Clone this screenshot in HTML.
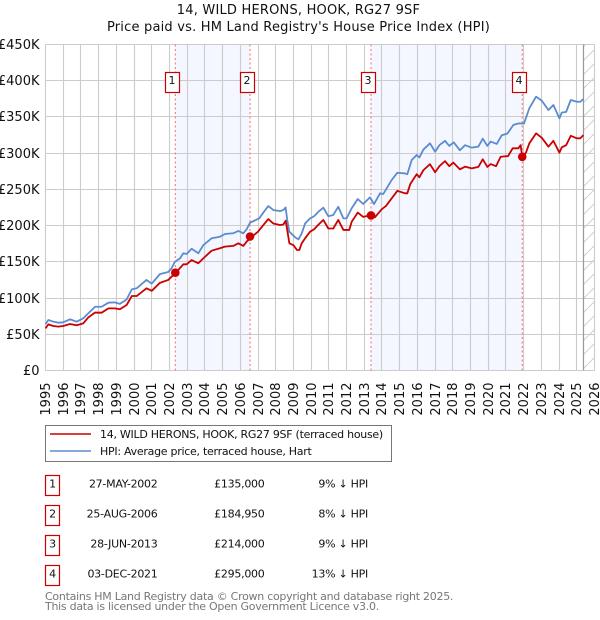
<!DOCTYPE html>
<html>
<head>
<meta charset="utf-8">
<title>14, WILD HERONS, HOOK, RG27 9SF</title>
<style>
html,body{margin:0;padding:0;background:#fff;}
svg{display:block;font-family:"DejaVu Sans",sans-serif;}
text{fill:#111;}
.small{font-size:11px;letter-spacing:-0.27px;}
.head{font-size:13px;letter-spacing:0.2px;}
</style>
</head>
<body>
<svg id="chart" xmlns="http://www.w3.org/2000/svg" width="600" height="620" viewBox="0 0 600 620">
  <defs>
    <pattern id="hatch" patternUnits="userSpaceOnUse" width="14" height="14">
      <path d="M-2 16 L16 -2" stroke="#cfcfcf" stroke-width="1" fill="none"/>
    </pattern>
  </defs>
  <text class="head" x="298.5" y="14" text-anchor="middle">14, WILD HERONS, HOOK, RG27 9SF</text>
  <text class="head" x="298.5" y="31" text-anchor="middle">Price paid vs. HM Land Registry's House Price Index (HPI)</text>
  <g id="plot"></g>

  <g>
    <rect x="45.5" y="425.5" width="346" height="36" fill="#fff" stroke="#777" stroke-width="1"/>
    <line x1="50" x2="91" y1="434" y2="434" stroke="#cc0000" stroke-width="1.6"/>
    <text class="small" x="100" y="438">14, WILD HERONS, HOOK, RG27 9SF (terraced house)</text>
    <line x1="50" x2="91" y1="451" y2="451" stroke="#5b8bd0" stroke-width="1.6"/>
    <text class="small" x="100" y="455">HPI: Average price, terraced house, Hart</text>
  </g>

  <g>
    <g>
      <rect x="45.5" y="475.5" width="14" height="20" fill="#fff" stroke="#cc0000" stroke-width="1.2"/>
      <text class="small" x="52.5" y="487.5" text-anchor="middle">1</text>
      <text class="small" x="157.5" y="487.5" text-anchor="end">27-MAY-2002</text>
      <text class="small" x="264.5" y="487.5" text-anchor="end">£135,000</text>
      <text class="small" x="368" y="487.5" text-anchor="end">9% ↓ HPI</text>
    </g>
    <g>
      <rect x="45.5" y="505.5" width="14" height="20" fill="#fff" stroke="#cc0000" stroke-width="1.2"/>
      <text class="small" x="52.5" y="517.5" text-anchor="middle">2</text>
      <text class="small" x="157.5" y="517.5" text-anchor="end">25-AUG-2006</text>
      <text class="small" x="264.5" y="517.5" text-anchor="end">£184,950</text>
      <text class="small" x="368" y="517.5" text-anchor="end">8% ↓ HPI</text>
    </g>
    <g>
      <rect x="45.5" y="535.5" width="14" height="20" fill="#fff" stroke="#cc0000" stroke-width="1.2"/>
      <text class="small" x="52.5" y="547.5" text-anchor="middle">3</text>
      <text class="small" x="157.5" y="547.5" text-anchor="end">28-JUN-2013</text>
      <text class="small" x="264.5" y="547.5" text-anchor="end">£214,000</text>
      <text class="small" x="368" y="547.5" text-anchor="end">9% ↓ HPI</text>
    </g>
    <g>
      <rect x="45.5" y="565.5" width="14" height="20" fill="#fff" stroke="#cc0000" stroke-width="1.2"/>
      <text class="small" x="52.5" y="577.5" text-anchor="middle">4</text>
      <text class="small" x="157.5" y="577.5" text-anchor="end">03-DEC-2021</text>
      <text class="small" x="264.5" y="577.5" text-anchor="end">£295,000</text>
      <text class="small" x="368" y="577.5" text-anchor="end">13% ↓ HPI</text>
    </g>
  </g>

  <text class="small" x="45" y="600" style="fill:#777">Contains HM Land Registry data © Crown copyright and database right 2025.</text>
  <text class="small" x="45" y="610" style="fill:#777">This data is licensed under the Open Government Licence v3.0.</text>
</svg>

<script>
const yearTicks = [1995,1996,1997,1998,1999,2000,2001,2002,2003,2004,2005,2006,2007,2008,2009,2010,2011,2012,2013,2014,2015,2016,2017,2018,2019,2020,2021,2022,2023,2024,2025,2026];
const valueTicks = [0,50,100,150,200,250,300,350,400,450];
const valueTickLabels = ['£0','£50K','£100K','£150K','£200K','£250K','£300K','£350K','£400K','£450K'];

const hpiDates = [1995,1995.16,1995.44,1995.72,1996,1996.38,1996.76,1997.13,1997.42,1997.8,1998.17,1998.55,1998.92,1999.2,1999.58,1999.87,2000.15,2000.7,2001,2001.46,2001.93,2002.12,2002.3,2002.6,2002.78,2002.97,2003.25,2003.63,2003.91,2004.38,2004.85,2005.13,2005.6,2005.89,2006.17,2006.36,2006.55,2007.07,2007.3,2007.58,2007.86,2008.24,2008.43,2008.56,2008.65,2008.77,2009.09,2009.28,2009.47,2009.66,2009.94,2010.17,2010.4,2010.69,2010.97,2011.25,2011.53,2011.82,2012,2012.29,2012.63,2012.94,2013.32,2013.55,2013.89,2014.07,2014.55,2014.87,2015.3,2015.43,2015.68,2015.96,2016.11,2016.34,2016.71,2017,2017.24,2017.56,2017.8,2018.05,2018.4,2018.69,2019.07,2019.44,2019.69,2019.95,2020.14,2020.48,2020.76,2021.08,2021.42,2021.7,2022.02,2022.32,2022.7,2023.02,2023.4,2023.68,2024.02,2024.15,2024.4,2024.66,2025,2025.2,2025.37];
const hpiValues = [64.2,69.7,67.4,66,66.5,70.7,67.4,72,79,88,88,93.6,94,92,98,112,113.5,125,120,133,136,141,150,155,161.8,160.8,168,161.8,173,182.5,184.7,188.4,189.4,192.6,189.4,195,204,210,218,227,221.6,220,221.6,225,207.7,191.6,183.9,181,189.4,203,210,213,219,224.8,213,214.7,226,210,210,224,236.7,229.8,239,229.8,244.6,243.6,263,273,272,271,290.6,297.5,294,305,313.6,302,311,317,310,315,304,311,307.6,309,320,310,316,312.7,324.7,327,339,341,341,362,378,372.5,359.6,366.5,348,356,357,373.4,371,371,374.8];

const priceDates = [1995,1995.16,1995.44,1995.72,1996,1996.38,1996.76,1997.13,1997.42,1997.8,1998.17,1998.55,1998.92,1999.2,1999.58,1999.87,2000.15,2000.7,2001,2001.46,2001.93,2002.12,2002.38,2002.78,2002.97,2003.25,2003.63,2003.91,2004.38,2004.85,2005.13,2005.6,2005.89,2006.17,2006.36,2006.65,2007,2007.3,2007.58,2007.86,2008.24,2008.43,2008.56,2008.65,2008.77,2009,2009.2,2009.33,2009.47,2009.66,2009.94,2010.17,2010.4,2010.69,2010.97,2011.25,2011.53,2011.82,2012.15,2012.29,2012.63,2012.94,2013.23,2013.42,2013.6,2013.98,2014.22,2014.55,2014.87,2015.3,2015.43,2015.6,2015.96,2016.11,2016.34,2016.71,2017,2017.24,2017.56,2017.8,2018.03,2018.4,2018.69,2019.07,2019.44,2019.69,2019.95,2020.14,2020.44,2020.7,2021.12,2021.38,2021.7,2021.83,2021.92,2022.13,2022.32,2022.7,2023.02,2023.4,2023.68,2024.02,2024.15,2024.4,2024.66,2025,2025.2,2025.37];
const priceValues = [58.2,63.7,61.4,60.5,61.4,64.2,62.4,65,73.4,80,79.8,85.8,85.8,84.5,90.4,102.8,102.8,113.5,110,121,125,129.5,135.5,146.6,146.6,152.5,148,154.8,165.4,168.7,171,172,175.6,172,178,184.7,191.6,200.8,209,203,200.8,201.5,206.8,194,175.6,173,166.3,166.3,175.6,182.5,191.6,195,201,207.8,196,196,207.8,194,194,205.4,218,212,213.7,214.7,211.5,222.5,227,237.7,248,244.6,244.6,257.5,271,266.7,276.6,284.8,273.6,282,289,282,287,277.7,281.4,279,281,291.5,281,285,282,295,296,306.7,306.7,311,295,300.7,313.6,327.4,321.4,309,317,300.7,308,311,324,320.5,320.5,325];

const saleNumbers = ['1','2','3','4'];
const saleDates = [2002.33,2006.55,2013.38,2021.92];
const saleValues = [135,184.95,214,295];
const shadedSpans = [[2002.33,2006.55],[2013.38,2021.92]];
const dataEndYear = 2025.37;

const left = 45.5, right = 594.5, top_ = 44.5, bottom = 370.5;
const xMin = 1995, xMax = 2026, yMin = 0, yMax = 450;
function xScale(year) { return left + (year - xMin) / (xMax - xMin) * (right - left); }
function yScale(value) { return bottom - (value - yMin) / (yMax - yMin) * (bottom - top_); }
function snap(v) { return Math.round(v - 0.5) + 0.5; }

const plot = document.getElementById('plot');
const NS = 'http://www.w3.org/2000/svg';
function make(tag, attrs, parent) {
  const el = document.createElementNS(NS, tag);
  for (const k in attrs) el.setAttribute(k, attrs[k]);
  (parent || plot).appendChild(el);
  return el;
}

// shaded ownership spans
shadedSpans.forEach(function (span) {
  const el = make('rect', {x: xScale(span[0]), y: top_, width: xScale(span[1]) - xScale(span[0]), height: bottom - top_, fill: '#f4f7ff'});
  
  
});

// grid
valueTicks.forEach(function (v, i) {
  const y = snap(yScale(v));
  const g = make('line', {x1: left, x2: right, y1: y, y2: y, stroke: '#cccccc', 'stroke-width': 1.1});
  
  
  const t = make('text', {x: 39.5, y: y + 4.5, 'text-anchor': 'end', 'font-size': 13});
  
  
  t.textContent = valueTickLabels[i];
});
yearTicks.forEach(function (yr) {
  const x = snap(xScale(yr));
  const g = make('line', {x1: x, x2: x, y1: top_, y2: bottom, stroke: '#cccccc', 'stroke-width': 1.1});
  
  
  const t = make('text', {x: 0, y: 0, 'text-anchor': 'end', 'font-size': 13, transform: 'translate(' + (x + 4.5) + ',382.5) rotate(-90)'});
  
  
  t.textContent = String(yr);
});

// projected (no data) region
const hatch = make('rect', {x: xScale(dataEndYear), y: top_, width: right - xScale(dataEndYear), height: bottom - top_, fill: 'url(#hatch)'});


const endLine = make('line', {x1: snap(xScale(dataEndYear)), x2: snap(xScale(dataEndYear)), y1: top_, y2: bottom, stroke: '#999999', 'stroke-width': 1.2});



// sale markers: dotted lines
saleDates.forEach(function (d) {
  const el = make('line', {x1: xScale(d), x2: xScale(d), y1: top_, y2: bottom, stroke: '#f46a6a', 'stroke-width': 1, 'stroke-dasharray': '2 2.5'});
  
  
});

function pathFrom(xs, ys) {
  return xs.map(function (d, i) { return (i ? 'L' : 'M') + xScale(d).toFixed(2) + ' ' + yScale(ys[i]).toFixed(2); }).join(' ');
}
const hpiLine = make('path', {d: pathFrom(hpiDates, hpiValues), fill: 'none', stroke: '#5b8bd0', 'stroke-width': 1.8, 'stroke-linejoin': 'round'});


const priceLine = make('path', {d: pathFrom(priceDates, priceValues), fill: 'none', stroke: '#cc0000', 'stroke-width': 1.8, 'stroke-linejoin': 'round'});



// sale dots and numbered badges
saleDates.forEach(function (d, i) {
  const dot = make('circle', {cx: xScale(d), cy: yScale(saleValues[i]), r: 4.3, fill: '#cc0000'});
  
  
  const bx = snap(xScale(d) - 10);
  const badge = make('rect', {x: bx, y: 72.5, width: 14, height: 20, fill: '#fff', stroke: '#cc0000', 'stroke-width': 1.2});
  
  
  const num = make('text', {x: bx + 6.5, y: 84, 'text-anchor': 'middle', 'font-size': 11});
  
  
  num.textContent = saleNumbers[i];
});
</script>
</body>
</html>
